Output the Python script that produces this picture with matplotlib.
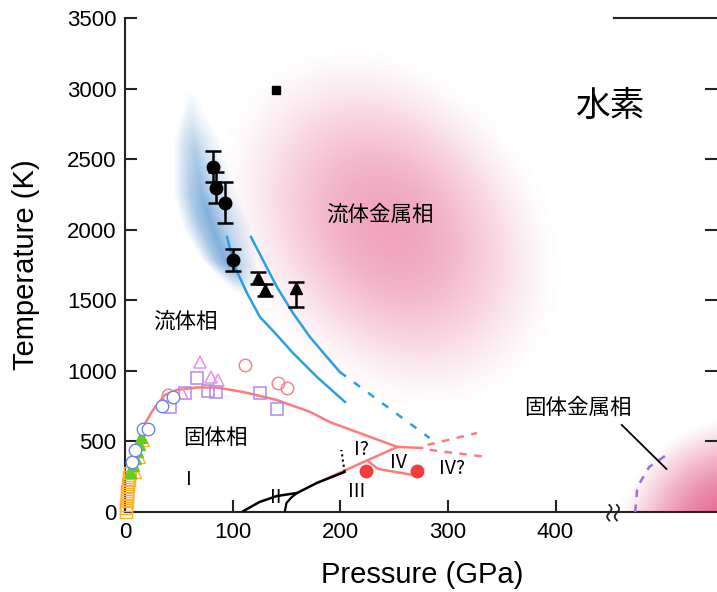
import numpy as np
import matplotlib
matplotlib.use('Agg')
import matplotlib.pyplot as plt

plt.rcParams['font.family'] = ['Liberation Sans', 'Noto Sans CJK JP']

# --- données (P en GPa, T en K) ---
# courbe de fusion (ligne rose)
melt_P = [15, 26, 37, 48, 67, 85, 110, 141, 172, 190, 253, 276]
melt_T = [580, 723, 829, 865, 882, 882, 850, 794, 709, 638, 461, 454]
# frontière I / III (rose)
i3_P = [178, 253]
i3_T = [205, 461]
# frontière de la phase IV (rose)
iv_P = [226, 235, 271]
iv_T = [360, 305, 258]
# prolongements en pointillés
dash_up_P = [281, 327]
dash_up_T = [475, 560]
dash_lo_P = [283, 336]
dash_lo_T = [440, 390]
# lignes noires (phases II / III)
black_P = [110, 125, 141, 160, 178, 204]
black_T = [7, 71, 113, 135, 205, 284]
black2_P = [148.6, 150, 155, 160]
black2_T = [7, 64, 106, 135]
dotted_P = [204, 201]
dotted_T = [284, 440]
# lignes bleues (transition fluide isolant / métal)
blue1_P = [94.7, 102.1, 113.3, 125.3, 139.3, 156.0, 178.3, 204.3]
blue1_T = [1949, 1736, 1552, 1382, 1269, 1127, 957, 780]
blue2_P = [117, 128.1, 141.1, 156.0, 171.8, 187.6, 199.6]
blue2_T = [1949, 1786, 1595, 1410, 1240, 1098, 992]
blue_dash_P = [199.6, 283]
blue_dash_T = [992, 524]
# arc violet (solide métallique)
arc_P = [474, 476, 487, 503]
arc_T = [0, 177, 319, 404]
# mesures avec barres d'erreur
circ_P = [81.7, 84.5, 92.8, 100.3]
circ_T = [2445, 2296, 2190, 1786]
circ_err = [110, 110, 145, 78]
tri_P = [123.5, 130, 158.7]
tri_T = [1658, 1573, 1588]
tri_err_lo = [40, 40, 135]
tri_err_hi = [40, 40, 42]
sq_P = [140]
sq_T = [2990]
# points rouges
red_P = [224, 271]
red_T = [290, 290]
# symboles ouverts près de l'origine
orange_sq_P = [1, 1, 1.2, 1.5, 1.8, 2, 2.3, 2.7, 3, 3.5, 4, 4.5]
orange_sq_T = [0, 25, 50, 75, 100, 125, 150, 175, 200, 225, 250, 275]
orange_tri_P = [9, 13, 16.5]
orange_tri_T = [280, 390, 510]
green_P = [5, 7, 9, 11, 13, 15]
green_T = [280, 330, 380, 430, 480, 530]
bcirc_P = [6.5, 9.3, 17, 21, 34, 44.5]
bcirc_T = [355, 440, 590, 590, 750, 815]
psq_P = [42, 56, 66.6, 77, 85, 125, 141]
psq_T = [745, 843, 950, 857, 850, 843, 730]
mtri_P = [53, 69.6, 79.8, 86.4]
mtri_T = [843, 1063, 957, 935]
rcirc_P = [40, 111.4, 142, 150.4]
rcirc_T = [830, 1042, 914, 879]

xticks = [0, 100, 200, 300, 400]
yticks = [0, 500, 1000, 1500, 2000, 2500, 3000, 3500]

# --- figure ---
fig = plt.figure(figsize=(7.17, 5.92), dpi=100)
ax = fig.add_axes([125 / 717, 80 / 592, 592 / 717, 494 / 592])
xmax, ymax = 550, 3500
ax.set_xlim(0, xmax)
ax.set_ylim(0, ymax)

# échelle en pixels pour les dégradés
sx = 592 / xmax
sy = 494 / ymax
PP, TT = np.meshgrid(np.linspace(0, xmax, 700), np.linspace(0, ymax, 600))


def shade(alpha, rgb, z):
    img = np.zeros(alpha.shape + (4,))
    img[..., 0], img[..., 1], img[..., 2] = rgb
    img[..., 3] = np.clip(alpha, 0, 1)
    ax.imshow(img, extent=(0, xmax, 0, ymax), origin='lower', aspect='auto',
              zorder=z, interpolation='bilinear')


pink = (0.89, 0.31, 0.51)
# ellipse rose (fluide métallique)
a = np.deg2rad(-52)
dx = (PP - 246) * sx
dy = (TT - 2014) * sy
u = dx * np.cos(a) + dy * np.sin(a)
v = -dx * np.sin(a) + dy * np.cos(a)
r = np.sqrt((u / 205) ** 2 + (v / 156) ** 2)
shade(0.52 * np.clip(1 - r ** 2, 0, 1) ** 1.8, pink, 0)

# coin rose (solide métallique)
dx = (PP - 571) * sx
dy = (TT + 200) * sy
r = np.sqrt(dx ** 2 + dy ** 2) / 122
shade(0.92 * np.clip(1 - r ** 2, 0, 1) ** 1.2, pink, 0)

# bande bleue
band_T = [1560, 1665, 1786, 2020, 2261, 2650, 2880]
band_L = [105, 95, 82, 67, 57.6, 54, 58]
band_R = [124, 122.6, 119, 113, 100, 85, 70]
L = np.interp(TT, band_T, band_L)
R = np.interp(TT, band_T, band_R)
uu = (PP - L) / (R - L)
across = np.interp(uu, [-0.3, 0.05, 0.3, 0.6, 1.1], [0, 0.7, 1, 0.55, 0])
along = np.interp(TT, [1540, 1750, 2150, 2550, 2980], [0, 1, 1, 0.65, 0])
shade(0.7 * across * along, (0.3, 0.56, 0.8), 1)

# lignes
pink_line = '#ff7b7b'
blue_line = '#2aa0e4'
ax.plot(melt_P, melt_T, color=pink_line, lw=1.8, zorder=3)
ax.plot(i3_P, i3_T, color=pink_line, lw=1.8, zorder=3)
ax.plot(iv_P, iv_T, color=pink_line, lw=1.8, zorder=3)
ax.plot(dash_up_P, dash_up_T, color=pink_line, lw=1.8, ls=(0, (3, 3)), zorder=3)
ax.plot(dash_lo_P, dash_lo_T, color=pink_line, lw=1.8, ls=(0, (3, 3)), zorder=3)
ax.plot(black_P, black_T, color='black', lw=1.8, zorder=4)
ax.plot(black2_P, black2_T, color='black', lw=1.6, zorder=4)
ax.plot(dotted_P, dotted_T, color='black', lw=1.5, ls=(0, (1, 1.5)), zorder=4)
ax.plot(blue1_P, blue1_T, color=blue_line, lw=1.8, zorder=3)
ax.plot(blue2_P, blue2_T, color=blue_line, lw=1.8, zorder=3)
ax.plot(blue_dash_P, blue_dash_T, color=blue_line, lw=1.8, ls=(0, (3, 4)), zorder=3)
ax.plot(arc_P, arc_T, color='#a070e0', lw=1.8, ls=(0, (3, 3)), zorder=3)
ax.plot([461.5, 503], [617, 305], color='black', lw=1.3, zorder=4)

# symboles ouverts
ax.plot(orange_sq_P, orange_sq_T, 's', ms=8, mfc='none', mec='#ffb030', mew=1,
        zorder=5, clip_on=False)
ax.plot(orange_tri_P, orange_tri_T, '^', ms=9, mfc='none', mec='#ffb030', mew=1, zorder=5)
ax.plot(green_P, green_T, '^', ms=9, color='#66cc22', zorder=5)
ax.plot(bcirc_P, bcirc_T, 'o', ms=9, mfc='white', mec='#6688ee', mew=1, zorder=6)
ax.plot(psq_P, psq_T, 's', ms=9, mfc='none', mec='#b088e8', mew=1.1, zorder=5)
ax.plot(mtri_P, mtri_T, '^', ms=9, mfc='none', mec='#e890e8', mew=1.1, zorder=5)
ax.plot(rcirc_P, rcirc_T, 'o', ms=9, mfc='none', mec='#f08888', mew=1.1, zorder=5)

# mesures
ax.errorbar(circ_P, circ_T, yerr=circ_err, fmt='o', ms=9, color='black',
            ecolor='black', elinewidth=1.8, capsize=5.5, capthick=1.8, zorder=7)
ax.errorbar(tri_P, tri_T, yerr=[tri_err_lo, tri_err_hi], fmt='^', ms=9, color='black',
            ecolor='black', elinewidth=1.8, capsize=5.5, capthick=1.8, zorder=7)
ax.plot(sq_P, sq_T, 's', ms=6, color='black', zorder=7)
ax.plot(red_P, red_T, 'o', ms=9, color='#f23c3c', zorder=7)

# textes
ax.text(450, 2870, '水素', fontsize=25, ha='center', va='center')
ax.text(237, 2105, '流体金属相', fontsize=15.5, ha='center', va='center', zorder=8)
ax.text(56, 1347, '流体相', fontsize=15.5, ha='center', va='center')
ax.text(84, 524, '固体相', fontsize=15.5, ha='center', va='center')
ax.text(421, 737, '固体金属相', fontsize=15.5, ha='center', va='center')
for s, x, y in [('I', 59.4, 227), ('II', 140, 106), ('III', 215, 142),
                ('I?', 220, 440), ('IV', 254, 354), ('IV?', 303.6, 305)]:
    ax.text(x, y, s, fontsize=14, ha='center', va='center',
            family=['Noto Sans CJK JP'], zorder=8)

# axes
for side in ['top', 'right']:
    ax.spines[side].set_visible(False)
for side in ['left', 'bottom']:
    ax.spines[side].set_linewidth(1.5)
    ax.spines[side].set_color('#222222')
ax.set_xticks(xticks)
ax.set_yticks(yticks)
ax.tick_params(direction='in', length=8.5, width=1.5, labelsize=16, color='#222222')
ax.tick_params(axis='y', right=True, pad=6)
ax.yaxis.get_major_ticks()[0].tick2line.set_visible(False)
ax.yaxis.get_major_ticks()[-1].tick2line.set_visible(False)
ax.tick_params(axis='x', pad=7)
ax.set_xlabel('Pressure (GPa)', fontsize=21)
ax.set_ylabel('Temperature (K)', fontsize=21)
ax.xaxis.set_label_coords(0.502, -0.1)
ax.yaxis.set_label_coords(-0.143, 0.5)

# coupure de l'axe et cadre du panneau de droite
t = np.linspace(0, 1, 30)
for x0 in [450, 457]:
    ax.plot(x0 + 2.0 * np.sin(2 * np.pi * t), 50 - 110 * t, color='#222222', lw=1.3,
            clip_on=False, zorder=9)
ax.plot([454, xmax], [ymax, ymax], color='#222222', lw=1.5, clip_on=False)

fig.savefig('out.png', dpi=100)
